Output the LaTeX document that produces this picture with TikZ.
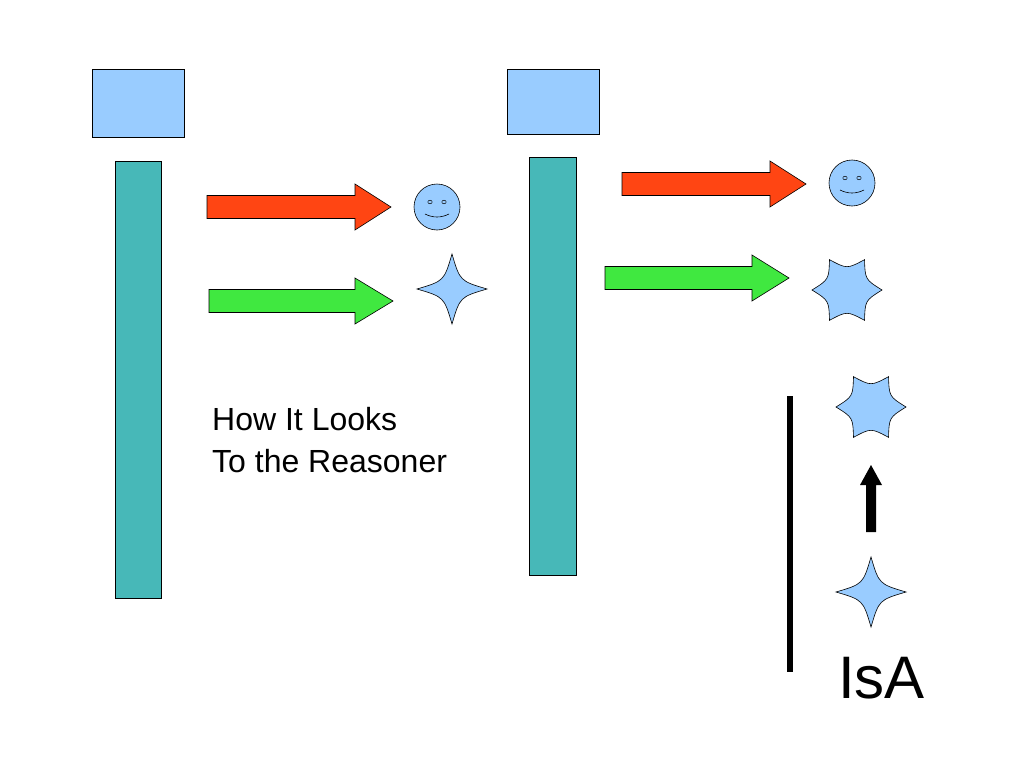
\documentclass[tikz,border=0pt]{standalone}
\usepackage{fontspec}
\usetikzlibrary{calc}
\setmainfont{Liberation Sans}
\definecolor{lb}{HTML}{99CCFF}
\definecolor{teal2}{HTML}{47B8B8}
\definecolor{ored}{HTML}{FF4513}
\definecolor{lgreen}{HTML}{40E840}
\begin{document}
\begin{tikzpicture}[x=1pt,y=-1pt,
  box/.style={draw=black,fill=lb,line width=0.6pt},
  bar/.style={draw=black,fill=teal2,line width=0.6pt},
  shp/.style={draw=black,fill=lb,line width=0.6pt},
  fat/.style={draw=black,line width=0.6pt}]
\useasboundingbox (0,0) rectangle (1024,768);
% boxes and bars
\draw[box] (92,69) rectangle (184,137);
\draw[box] (507,69) rectangle (599,134);
\draw[bar] (115,161) rectangle (161,598);
\draw[bar] (529,157) rectangle (576,575);
% block arrows
\newcommand{\fa}[7]{\draw[fat,fill=#7] (#1,#4-#5) -- (#2,#4-#5) -- (#2,#4-#6) -- (#3,#4) -- (#2,#4+#6) -- (#2,#4+#5) -- (#1,#4+#5) -- cycle;}
\fa{207}{355}{391}{207}{11.5}{23}{ored}
\fa{209}{355}{393}{301}{11.5}{23}{lgreen}
\fa{622}{770}{806}{184}{11.5}{23}{ored}
\fa{605}{752}{789}{278}{11.5}{23}{lgreen}
% smileys
\newcommand{\smiley}[2]{%
  \draw[shp] (#1,#2) circle (23);
  \draw[black,line width=0.5pt] (#1-7,#2-5) ellipse (2.2 and 1.8);
  \draw[black,line width=0.5pt] (#1+7,#2-5) ellipse (2.2 and 1.8);
  \draw[black,line width=0.6pt] (#1-12,#2+7) .. controls (#1-4,#2+11) and (#1+4,#2+11) .. (#1+12,#2+7);}
\smiley{437}{207}
\smiley{852}{183}
% four-point star
\newcommand{\fstar}[2]{%
  \draw[shp] (#1+35,#2) .. controls (#1+8,#2-8) .. (#1,#2-35) .. controls (#1-8,#2-8) .. (#1-35,#2)
   .. controls (#1-8,#2+8) .. (#1,#2+35) .. controls (#1+8,#2+8) .. cycle;}
\fstar{452}{289}
\fstar{871}{592}
% six-point concave star
\newcommand{\hstar}[2]{%
  \begin{scope}[shift={(#1,#2)}]
  \draw[shp] (0:35) .. controls (30:21) .. (60:35) .. controls (90:21) .. (120:35)
    .. controls (150:21) .. (180:35) .. controls (210:21) .. (240:35)
    .. controls (270:21) .. (300:35) .. controls (330:21) .. cycle;
  \end{scope}}
\hstar{847}{290}
\hstar{871}{407}
% line and up arrow
\draw[black,line width=6pt] (790,396) -- (790,672);
\fill[black] (866,532) -- (866,485) -- (860,485) -- (871,465) -- (882,485) -- (876,485) -- (876,532) -- cycle;
% texts
\node[anchor=base west,font=\fontsize{32}{42}\selectfont,inner sep=0] (t1) at (212,430) {How It Looks};
\node[anchor=base west,font=\fontsize{32}{42}\selectfont,inner sep=0] (t2) at (212,472) {To the Reasoner};
\node[anchor=base west,font=\fontsize{60}{70}\selectfont,inner sep=0] (isa) at (838,698) {IsA};
\end{tikzpicture}
\end{document}
